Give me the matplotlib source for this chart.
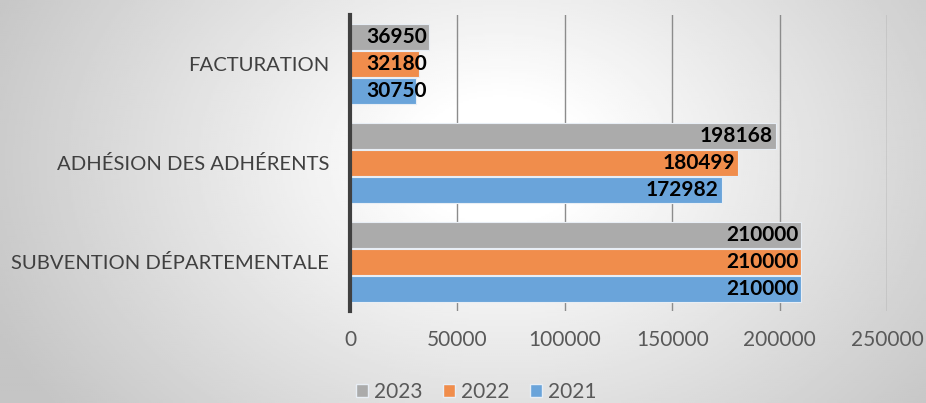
import numpy as np
import matplotlib.pyplot as plt
from matplotlib.patches import Patch

# données
categories = ['SUBVENTION DÉPARTEMENTALE', 'ADHÉSION DES ADHÉRENTS', 'FACTURATION']
years = ['2023', '2022', '2021']
v2023 = [210000, 198168, 36950]
v2022 = [210000, 180499, 32180]
v2021 = [210000, 172982, 30750]
colors = ['#ababab', '#f08d4c', '#6aa4da']

plt.rcParams['font.family'] = ['Lato', 'DejaVu Sans']

fig = plt.figure(figsize=(9.26, 4.03), dpi=100)

# fond en dégradé radial
bg = fig.add_axes([0, 0, 1, 1], zorder=-1)
xx, yy = np.meshgrid(np.linspace(0, 926, 463), np.linspace(0, 403, 202))
d = np.sqrt(((xx - 500) / 540) ** 2 + ((yy - 160) / 400) ** 2)
shade = np.clip(1 - 0.22 * np.clip(d - 0.15, 0, None) / 0.85, 0.77, 1)
bg.imshow(shade, cmap='gray', vmin=0, vmax=1, extent=[0, 1, 0, 1], aspect='auto', origin='upper')
bg.axis('off')

ax = fig.add_axes([350 / 926, 1 - 311 / 403, 537 / 926, 296 / 403])
ax.set_facecolor('none')

y = np.arange(len(categories))
h = 0.265
step = 0.273
series = [v2023, v2022, v2021]
for i, vals in enumerate(series):
    pos = y + (1 - i) * step
    ax.barh(pos, vals, height=h, color=colors[i], edgecolor='#e8eef5', linewidth=0.8, zorder=2)
    for p, v in zip(pos, vals):
        xt = max(v, 37000)
        ax.annotate(str(v), (xt, p), xytext=(-2, 0), textcoords='offset points',
                    ha='right', va='center', fontsize=15, fontweight='bold', color='black', zorder=3)

ax.set_xlim(0, 250000)
ax.set_ylim(-0.5, 2.5)
ax.set_xticks(np.arange(0, 250001, 50000))
ax.set_yticks(y)
ax.set_yticklabels(categories, fontsize=14.6, color='#404040')
ax.tick_params(axis='x', length=0, pad=14, labelsize=15, labelcolor='#595959')
ax.tick_params(axis='y', length=0, pad=15)
ax.grid(axis='x', color='#8c8c8c', linewidth=1, zorder=0)
for s in ['top', 'right', 'bottom']:
    ax.spines[s].set_visible(False)
ax.spines['left'].set_color('#404040')
ax.spines['left'].set_linewidth(3)
ax.spines['left'].set_zorder(4)

handles = [Patch(facecolor=c, edgecolor='#e8eef5', label=l) for c, l in zip(colors, years)]
fig.legend(handles=handles, loc='center', bbox_to_anchor=(0.514, 0.027), ncol=3, frameon=False,
           fontsize=15, labelcolor='#595959', handlelength=0.6, handleheight=0.6,
           handletextpad=0.25, columnspacing=1.0)

fig.savefig('out.png', dpi=100)
